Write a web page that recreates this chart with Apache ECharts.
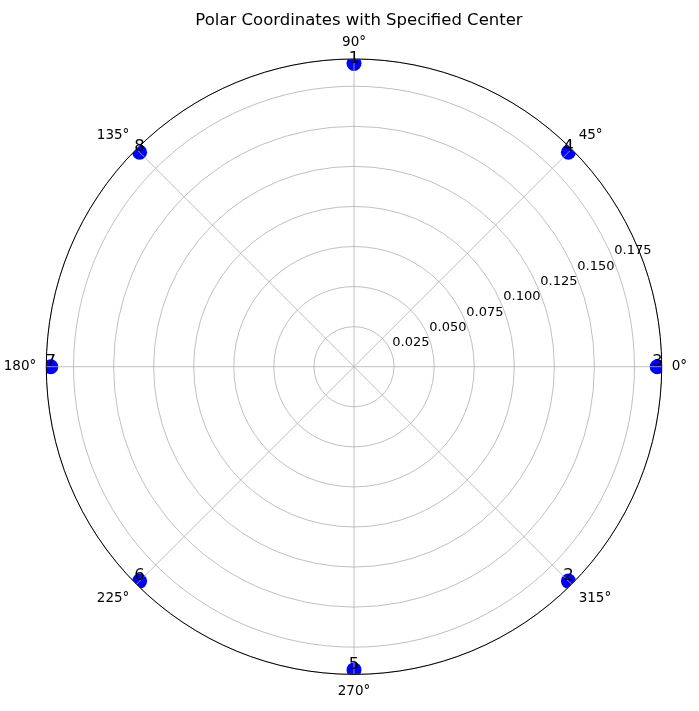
<!DOCTYPE html>
<html>
<head>
<meta charset="utf-8">
<title>Polar Coordinates with Specified Center</title>
<script src="https://cdn.jsdelivr.net/npm/echarts@6/dist/echarts.min.js"></script>
<style>
  html, body { margin: 0; padding: 0; background: #fff; }
  #chart { width: 699px; height: 711px; }
</style>
</head>
<body>
<div id="chart"></div>
<script>
// data
const pointNames = ["1", "2", "3", "4", "5", "6", "7", "8"];
const pointAngles = [90, 315, 0, 45, 270, 225, 180, 135];
const pointRadii = [0.1892, 0.1892, 0.1892, 0.1892, 0.1892, 0.1892, 0.1892, 0.1892];
const radiusMax = 0.192;
const radiusStep = 0.025;
const angleStep = 45;

// layout of the polar area (pixels)
const CX = 354, CY = 366.7, R = 307.7;
const FONT = "DejaVu Sans";

const seriesData = pointNames.map((n, i) => ({ name: n, value: [pointRadii[i], pointAngles[i]] }));

const chart = echarts.init(document.getElementById("chart"));

const option = {
  animation: false,
  backgroundColor: "#fff",
  title: {
    text: "Polar Coordinates with Specified Center",
    left: CX,
    textAlign: "center",
    top: 7,
    z: 10,
    textStyle: { fontFamily: FONT, fontSize: 16.5, fontWeight: "normal", color: "#000" },
  },
  polar: [
    { center: [CX, CY], radius: R },
    { center: [CX, CY], radius: R }, // only carries the radius labels at 22.5°
  ],
  angleAxis: [
    {
      polarIndex: 0,
      type: "value",
      min: 0,
      max: 360,
      interval: angleStep,
      startAngle: 0,
      clockwise: false,
      z: 5,
      axisLine: { show: true, lineStyle: { color: "#000", width: 1 } },
      axisTick: { show: false },
      axisLabel: {
        margin: 10,
        fontFamily: FONT,
        fontSize: 13.5,
        color: "#000",
        formatter: (v) => (v >= 360 ? "" : v + "°"),
      },
      splitLine: { show: true, lineStyle: { color: "#b0b0b0", width: 0.8 } },
    },
    {
      polarIndex: 1,
      type: "value",
      min: 0,
      max: 360,
      startAngle: 22.5,
      clockwise: false,
      show: false,
    },
  ],
  radiusAxis: [
    {
      polarIndex: 0,
      type: "value",
      min: 0,
      max: radiusMax,
      interval: radiusStep,
      z: 4,
      axisLine: { show: false },
      axisTick: { show: false },
      axisLabel: { show: false },
      splitLine: { show: true, lineStyle: { color: "#b0b0b0", width: 0.8 } },
    },
    {
      polarIndex: 1,
      type: "value",
      min: 0,
      max: radiusMax,
      interval: radiusStep,
      z: 6,
      axisLine: { show: false },
      axisTick: { show: false },
      splitLine: { show: false },
      axisLabel: {
        show: true,
        align: "left",
        verticalAlign: "bottom",
        margin: 2,
        padding: [0, 0, 0, 2],
        fontFamily: FONT,
        fontSize: 13,
        color: "#000",
        formatter: (v) => (v <= 0 || v > radiusMax - 0.01 ? "" : v.toFixed(3)),
      },
    },
  ],
  // white ring outside the axes circle so markers look clipped, as in the picture
  graphic: [
    {
      type: "ring",
      silent: true,
      z: 3,
      shape: { cx: CX, cy: CY, r0: R, r: 420 },
      style: { fill: "#fff" },
    },
  ],
  series: [
    {
      type: "scatter",
      coordinateSystem: "polar",
      polarIndex: 0,
      z: 2,
      symbolSize: 15,
      itemStyle: { color: "#0000ff", opacity: 1 },
      data: seriesData,
    },
    {
      type: "scatter",
      coordinateSystem: "polar",
      polarIndex: 0,
      z: 7,
      symbolSize: 1,
      itemStyle: { color: "#fff", opacity: 0 },
      label: {
        show: true,
        position: "inside",
        verticalAlign: "bottom",
        offset: [0, 3],
        formatter: (p) => p.name,
        fontFamily: FONT,
        fontSize: 16.5,
        lineHeight: 16.5,
        color: "#000",
        opacity: 1,
      },
      data: seriesData,
    },
  ],
};

chart.setOption(option);
</script>
</body>
</html>
